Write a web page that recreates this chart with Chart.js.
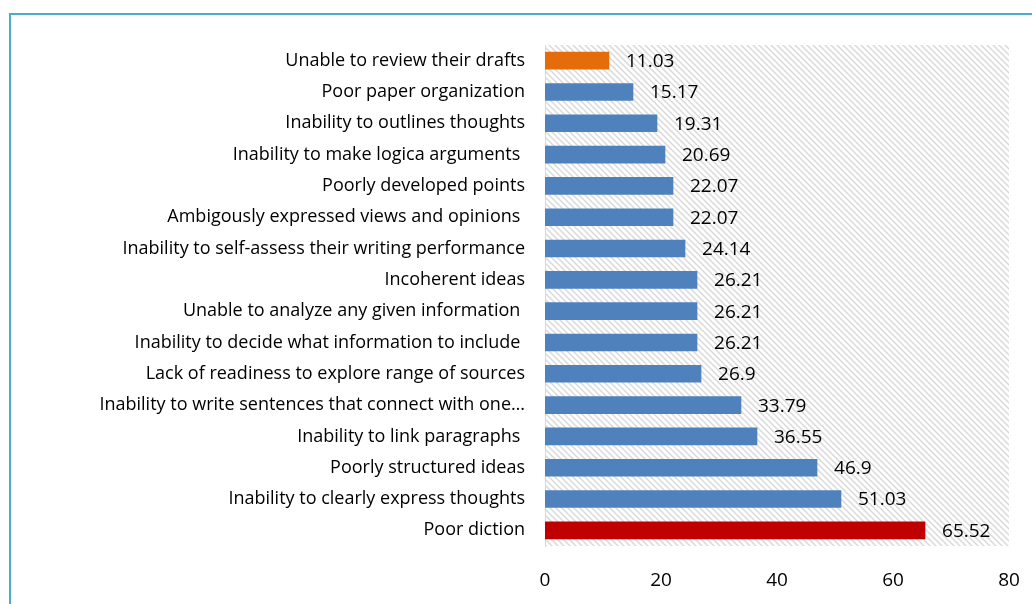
<!DOCTYPE html>
<html>
<head>
<meta charset="utf-8">
<script src="https://cdn.jsdelivr.net/npm/chart.js@4/dist/chart.umd.min.js"></script>
<style>
  body { margin: 0; background: #fff; }
  #frame { position: absolute; left: 9px; top: 13px; width: 1100px; height: 700px; border: 2px solid #4BACC6; }
  #chart { position: absolute; left: 0; top: 0; }
</style>
</head>
<body>
<div id="frame"></div>
<canvas id="chart" width="1032" height="604"></canvas>
<script>
const labels = [
    "Unable to review their drafts",
    "Poor paper organization",
    "Inability to outlines thoughts",
    "Inability to make logica arguments ",
    "Poorly developed points",
    "Ambigously expressed views and opinions ",
    "Inability to self-assess their writing performance",
    "Incoherent ideas",
    "Unable to analyze any given information ",
    "Inability to decide what information to include ",
    "Lack of readiness to explore range of sources",
    "Inability to write sentences that connect with one\u2026",
    "Inability to link paragraphs ",
    "Poorly structured ideas",
    "Inability to clearly express thoughts",
    "Poor diction"
];
const values = [11.03, 15.17, 19.31, 20.69, 22.07, 22.07, 24.14, 26.21, 26.21, 26.21, 26.9, 33.79, 36.55, 46.9, 51.03, 65.52];
const barColors = ["#E46C0A", "#4F81BD", "#4F81BD", "#4F81BD", "#4F81BD", "#4F81BD", "#4F81BD", "#4F81BD",
    "#4F81BD", "#4F81BD", "#4F81BD", "#4F81BD", "#4F81BD", "#4F81BD", "#4F81BD", "#C00000"];
const xTicks = [0, 20, 40, 60, 80];

const FONT = "'Open Sans', sans-serif";

// diagonal hatch behind the bars
const hatch = {
    id: "hatch",
    beforeDraw(chart) {
        const { ctx, chartArea: a } = chart;
        const p = document.createElement("canvas");
        p.width = 6; p.height = 6;
        const pc = p.getContext("2d");
        pc.strokeStyle = "#d9d9d9";
        pc.lineWidth = 1.5;
        pc.beginPath();
        pc.moveTo(-1, -1); pc.lineTo(7, 7);
        pc.moveTo(-4, 2); pc.lineTo(2, 8);
        pc.moveTo(2, -4); pc.lineTo(8, 2);
        pc.stroke();
        ctx.save();
        ctx.fillStyle = ctx.createPattern(p, "repeat");
        ctx.fillRect(a.left, a.top, a.right - a.left, a.bottom - a.top);
        ctx.restore();
    }
};

// numbers to the right of each bar
const valueLabels = {
    id: "valueLabels",
    afterDatasetsDraw(chart) {
        const { ctx } = chart;
        const meta = chart.getDatasetMeta(0);
        ctx.save();
        ctx.font = "19px " + FONT;
        ctx.fillStyle = "#000";
        ctx.textBaseline = "middle";
        meta.data.forEach((bar, i) => {
            ctx.fillText(String(values[i]), bar.x + 17, bar.y + 1);
        });
        ctx.restore();
    }
};

new Chart(document.getElementById("chart"), {
    type: "bar",
    data: {
        labels: labels,
        datasets: [{ data: values, backgroundColor: barColors, barThickness: 17 }]
    },
    options: {
        responsive: false,
        animation: false,
        indexAxis: "y",
        layout: { padding: { top: 45, right: 23, bottom: 0, left: 0 } },
        plugins: { legend: { display: false }, tooltip: { enabled: false } },
        scales: {
            x: {
                min: 0, max: 80,
                afterBuildTicks(s) { s.ticks = xTicks.map(v => ({ value: v })); },
                afterFit(s) { s.height = 58; s.paddingRight = 0; s.paddingLeft = 0; },
                grid: { display: false },
                border: { display: false },
                ticks: { color: "#000", font: { family: FONT, size: 19 }, padding: 15 }
            },
            y: {
                afterFit(s) { s.width = 545; },
                grid: { display: false },
                border: { display: true, color: "#d9d9d9", width: 1 },
                ticks: { color: "#000", font: { family: FONT, size: 18 }, padding: 12, autoSkip: false }
            }
        }
    },
    plugins: [hatch, valueLabels]
});
</script>
</body>
</html>
